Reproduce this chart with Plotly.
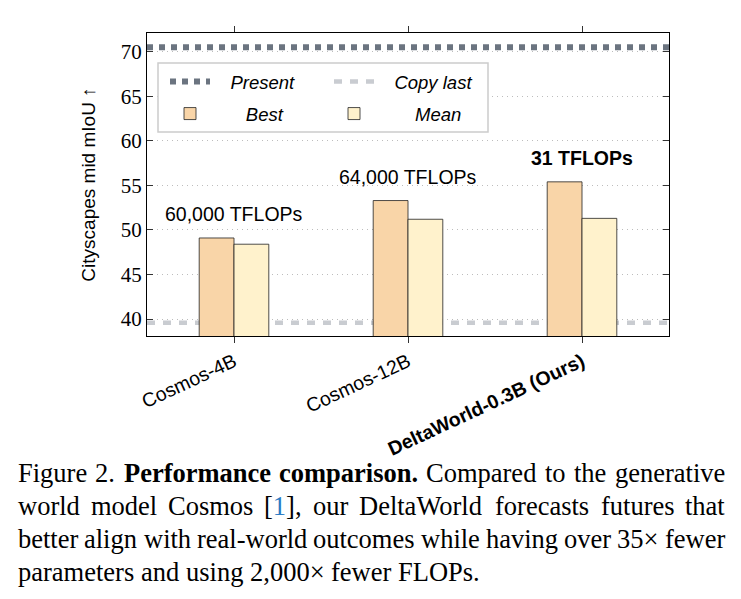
import plotly.graph_objects as go

# ---------------- data ----------------
categories = ["Cosmos-4B", "Cosmos-12B", "DeltaWorld-0.3B (Ours)"]
best = [49.1, 53.3, 55.4]
mean = [48.4, 51.2, 51.3]
flops_labels = ["60,000 TFLOPs", "64,000 TFLOPs", "<b>31 TFLOPs</b>"]
present_value = 70.5
copy_last_value = 39.6
y_ticks = [40, 45, 50, 55, 60, 65, 70]

# caption: list of lines; each line is a list of (word, style) ; style: n=normal, b=bold, c=citation
caption_line1 = [("Figure", "n"), ("2.", "n"), ("Performance", "b"), ("comparison.", "b"),
                 ("Compared", "n"), ("to", "n"), ("the", "n"), ("generative", "n")]
caption_line2 = [("world", "n"), ("model", "n"), ("Cosmos", "n"), ("[1],", "c"), ("our", "n"),
                 ("DeltaWorld", "n"), ("forecasts", "n"), ("futures", "n"), ("that", "n")]
caption_line3 = [("better", "n"), ("align", "n"), ("with", "n"), ("real-world", "n"),
                 ("outcomes", "n"), ("while", "n"), ("having", "n"), ("over", "n"),
                 ("35×", "n"), ("fewer", "n")]
caption_line4 = [("parameters", "n"), ("and", "n"), ("using", "n"), ("2,000×", "n"),
                 ("fewer", "n"), ("FLOPs.", "n")]

# ---------------- layout constants ----------------
W, H = 741, 599
ML, MR, MT, MB = 147, 72, 33, 263
PW, PH = W - ML - MR, H - MT - MB

def px(xp):
    return (xp - ML) / PW

def py(yp):
    return (H - MB - yp) / PH

SANS = "Liberation Sans, Arial, sans-serif"
SERIF = "Liberation Serif, Times New Roman, serif"
NB = "\u00a0"

# Times-Roman / Times-Bold advance widths (1/1000 em) for text layout of the caption
TR = dict(zip("abcdefghijklmnopqrstuvwxyz",
              [444, 500, 444, 500, 444, 333, 500, 500, 278, 278, 500, 278, 778, 500, 500, 500,
               500, 333, 389, 278, 500, 500, 722, 500, 500, 444]))
TR.update(dict(zip("ABCDEFGHIJKLMNOPQRSTUVWXYZ",
                   [722, 667, 667, 722, 611, 556, 722, 722, 333, 389, 722, 611, 889, 722, 722, 556,
                    722, 667, 556, 611, 722, 722, 944, 722, 722, 611])))
TR.update({d: 500 for d in "0123456789"})
TR.update({".": 250, ",": 250, "-": 333, "[": 333, "]": 333, "×": 564, " ": 250})
TB = dict(TR)
TB.update(dict(zip("abcdefghijklmnopqrstuvwxyz",
                   [500, 556, 444, 556, 444, 333, 500, 556, 278, 333, 556, 278, 833, 556, 500, 556,
                    556, 444, 389, 333, 556, 500, 722, 500, 500, 444])))
TB.update({"P": 611})

def word_width(word, style, fs):
    table = TB if style == "b" else TR
    return sum(table.get(ch, 500) for ch in word) * fs / 1000.0

def word_markup(word, style):
    if style == "b":
        return "<b>" + word + "</b>"
    if style == "c":
        return word.replace("1", "<span style='color:#2b7bc4'>1</span>")
    return word

xpos = list(range(len(categories)))
ticktext = categories[:-1] + ["<b>" + categories[-1] + "</b>"]

fig = go.Figure()

fig.add_trace(go.Bar(
    x=xpos, y=best, name=NB * 6 + "<i>Best</i>", offset=-0.2, width=0.2,
    marker=dict(color="#f9d5a8", line=dict(color="#222222", width=0.8)),
    legend="legend", legendrank=2, legendgroup="b",
))
fig.add_trace(go.Bar(
    x=xpos, y=mean, name=NB * 7 + "<i>Mean</i>", offset=0.0, width=0.2,
    marker=dict(color="#fff2cc", line=dict(color="#222222", width=0.8)),
    legend="legend2", legendrank=2, legendgroup="m",
))
fig.add_trace(go.Scatter(
    x=[-0.5, 2.5], y=[present_value, present_value], mode="lines",
    name=NB * 3 + "<i>Present</i>",
    line=dict(color="#6b7480", width=6, dash="dot"),
    legend="legend", legendrank=1, legendgroup="p",
))

shapes = [
    dict(type="line", xref="x", yref="y", x0=-0.5, x1=2.5,
         y0=copy_last_value, y1=copy_last_value,
         line=dict(color="#c9ccd1", width=4.5, dash="8px,8px"),
         layer="between", showlegend=True, name=NB * 3 + "<i>Copy last</i>",
         legend="legend2", legendrank=1, legendgroup="c"),
    # legend frame
    dict(type="rect", xref="paper", yref="paper",
         x0=px(158), x1=px(488), y0=py(132), y1=py(63),
         line=dict(color="#cccccc", width=1.5), fillcolor="white", layer="above"),
]

annotations = []
for i, lab in enumerate(flops_labels):
    annotations.append(dict(
        x=xpos[i], y=best[i], xref="x", yref="y", text=lab, showarrow=False,
        yanchor="bottom", yshift=11, font=dict(family=SANS, size=19.5, color="black"),
    ))

# caption, justified between x=17 and x=724 (last line left aligned)
CAP_FS = 26.5
CAP_L, CAP_R = 17, 724
cap_lines = [caption_line1, caption_line2, caption_line3, caption_line4]
cap_centers = [473, 506, 539, 572]
for li, (words, yc) in enumerate(zip(cap_lines, cap_centers)):
    widths = [word_width(w, s, CAP_FS) for w, s in words]
    if li < len(cap_lines) - 1:
        gap = (CAP_R - CAP_L - sum(widths)) / (len(words) - 1)
    else:
        gap = TR[" "] * CAP_FS / 1000.0
    xcur = CAP_L
    for (w, s), wd in zip(words, widths):
        annotations.append(dict(
            x=px(xcur), y=py(yc), xref="paper", yref="paper", text=word_markup(w, s),
            showarrow=False, xanchor="left", yanchor="middle", borderpad=0,
            font=dict(family=SERIF, size=CAP_FS, color="black"),
        ))
        xcur += wd + gap

legend_common = dict(
    bgcolor="rgba(0,0,0,0)", borderwidth=0, orientation="v",
    font=dict(family=SANS, size=18.5, color="black"),
    xanchor="left", yanchor="top", traceorder="grouped",
    tracegroupgap=5, itemwidth=40,
)

fig.update_layout(
    width=W, height=H,
    margin=dict(l=ML, r=MR, t=MT, b=MB),
    paper_bgcolor="white", plot_bgcolor="white",
    barmode="overlay",
    shapes=shapes,
    annotations=annotations,
    legend=dict(x=px(165), y=py(63), **legend_common),
    legend2=dict(x=px(329), y=py(63), **legend_common),
    xaxis=dict(
        range=[-0.5, 2.5], tickvals=xpos, ticktext=ticktext, tickangle=-25,
        ticks="outside", ticklen=6, tickcolor="#333", mirror="ticks",
        showline=True, linecolor="black", linewidth=1,
        showgrid=False, zeroline=False,
        tickfont=dict(family=SANS, size=19.5, color="black"),
    ),
    yaxis=dict(
        range=[38.1, 72.1], tickvals=y_ticks, ticks="inside", ticklen=6,
        tickcolor="#333", mirror="ticks",
        showline=True, linecolor="black", linewidth=1,
        showgrid=True, gridcolor="#bdbdbd", griddash="1px,4px", gridwidth=1,
        zeroline=False,
        tickfont=dict(family=SERIF, size=21, color="black"),
        title=dict(text="Cityscapes mid mIoU ↑", standoff=20,
                   font=dict(family=SANS, size=19, color="black")),
    ),
)

fig.write_html("out.html")
